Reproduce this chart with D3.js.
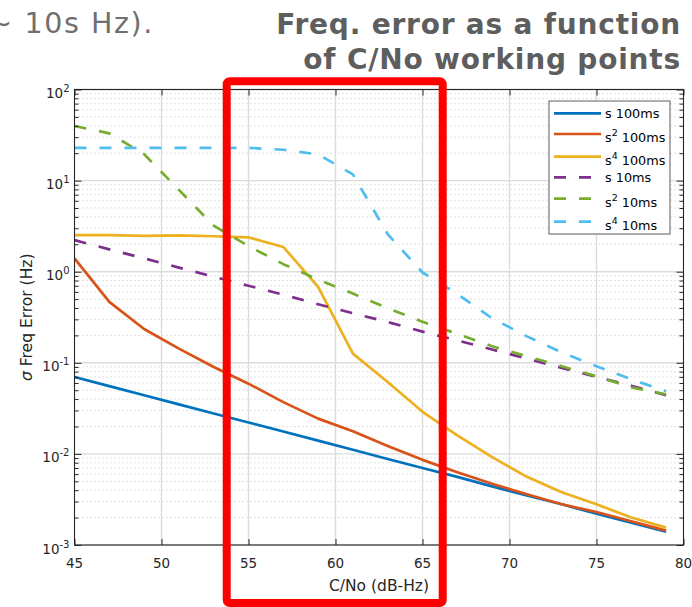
<!DOCTYPE html>
<html><head><meta charset="utf-8">
<script src="https://cdn.jsdelivr.net/npm/d3@7"></script>
<style>
body{margin:0;background:#fff;}
svg{display:block;}
text{font-family:"DejaVu Sans",sans-serif;}
</style>
</head><body>
<svg id="c" width="692" height="607"></svg>
<script>
// ---- data ----
const cno = [45,47,49,51,53,55,57,59,61,63,65,67,69,71,73,75,77,79];
const s_100ms  = [0.0698,0.0555,0.0441,0.0350,0.0278,0.0221,0.0176,0.0140,0.0111,0.0088,0.0070,0.0056,0.0044,0.0035,0.0028,0.0022,0.00176,0.00140];
const s2_100ms = [1.40,0.466,0.235,0.143,0.090,0.059,0.037,0.0244,0.0177,0.0122,0.0086,0.0063,0.0047,0.0036,0.0028,0.0023,0.00182,0.00144];
const s4_100ms = [2.52,2.52,2.47,2.50,2.45,2.38,1.87,0.68,0.126,0.0615,0.029,0.016,0.0092,0.0056,0.0038,0.0028,0.0020,0.00155];
const s_10ms   = [2.22,1.76,1.40,1.11,0.88,0.70,0.56,0.44,0.35,0.28,0.22,0.176,0.140,0.111,0.088,0.070,0.056,0.044];
const s2_10ms  = [39.7,33.0,19.5,7.9,3.2,1.91,1.21,0.82,0.575,0.397,0.282,0.208,0.152,0.118,0.0916,0.0711,0.0538,0.045];
const s4_10ms  = [22.9,22.9,22.9,22.9,22.9,22.9,21.8,19.4,11.7,2.58,0.98,0.57,0.308,0.195,0.130,0.0916,0.066,0.0486];

const seriesBase   = ["s","s","s","s","s","s"];
const seriesSup    = ["","2","4","","2","4"];
const seriesSuffix = ["100ms","100ms","100ms","10ms","10ms","10ms"];
const seriesValues = [s_100ms,s2_100ms,s4_100ms,s_10ms,s2_10ms,s4_10ms];

const xTickValues = [45,50,55,60,65,70,75,80];
const xGridValues = [50,55,60,65,70,75];
const yTickExponents = [-3,-2,-1,0,1,2];

const xLabel = "C/No (dB-Hz)";
const yLabelSymbol = "σ";
const yLabelRest = " Freq Error (Hz)";
const slideTextLeft = "∼ 10s Hz).";
const titleLines = ["Freq. error as a function","of C/No working points"];

// ---- styles ----
const colors = ["#0072BD","#D95319","#EDB120","#7E2F8E","#77AC30","#4DBEEE"];
const isDashed = [false,false,false,true,true,true];

// ---- layout ----
const L = 74.5, R = 683.5, T = 89.5, B = 545;
const svg = d3.select("#c");
const x = d3.scaleLinear().domain([45,80]).range([L,R]);
const y = d3.scaleLog().domain([1e-3,1e2]).range([B,T]);

const yMajor = yTickExponents.map(e => Math.pow(10,e));
const yMinor = [];
for (let e=-3;e<2;e++) for (let m=2;m<=9;m++) yMinor.push(m*Math.pow(10,e));

// slide text
svg.append("text").attr("x",154).attr("y",33).attr("text-anchor","end")
  .attr("font-size",28.5).attr("letter-spacing",1.6).attr("fill","#6f6f6f").text(slideTextLeft);
titleLines.forEach((t,i)=>{
  svg.append("text").attr("x",681).attr("y",34+35*i).attr("text-anchor","end")
    .attr("font-size",28).attr("font-weight","bold").attr("letter-spacing",0.8).attr("fill","#5e5e5e").text(t);
});

// grid
const grid = svg.append("g");
grid.selectAll("line.minor").data(yMinor).join("line")
  .attr("x1",L).attr("x2",R).attr("y1",d=>y(d)).attr("y2",d=>y(d))
  .attr("stroke","#c4c4c4").attr("stroke-width",1).attr("stroke-dasharray","1,3");
grid.selectAll("line.ymaj").data(yMajor).join("line")
  .attr("x1",L).attr("x2",R).attr("y1",d=>y(d)).attr("y2",d=>y(d))
  .attr("stroke","#dcdcdc").attr("stroke-width",1.4);
grid.selectAll("line.xmaj").data(xGridValues).join("line")
  .attr("x1",d=>x(d)).attr("x2",d=>x(d)).attr("y1",T).attr("y2",B)
  .attr("stroke","#dcdcdc").attr("stroke-width",1.4);

// series
svg.append("clipPath").attr("id","pc").append("rect")
  .attr("x",L).attr("y",T).attr("width",R-L).attr("height",B-T);
const line = d3.line().x(d=>x(d[0])).y(d=>y(d[1]));
const lines = svg.append("g").attr("clip-path","url(#pc)");
seriesValues.forEach((vals,i)=>{
  lines.append("path").datum(cno.map((c,j)=>[c,vals[j]]))
    .attr("d",line).attr("fill","none").attr("stroke",colors[i]).attr("stroke-width",2.7)
    .attr("stroke-linejoin","round")
    .attr("stroke-dasharray",isDashed[i]?"12,13":null);
});

// axes (ticks inward on all four sides)
const axCol = "#262626";
function styleAxis(g){ g.selectAll("path.domain").remove(); g.selectAll("line").attr("stroke",axCol); g.selectAll("text").remove(); }
svg.append("g").attr("transform",`translate(${L},0)`).call(d3.axisLeft(y).tickValues(yMajor).tickSize(-7).tickSizeOuter(0)).call(styleAxis);
svg.append("g").attr("transform",`translate(${L},0)`).call(d3.axisLeft(y).tickValues(yMinor).tickSize(-4).tickSizeOuter(0)).call(styleAxis);
svg.append("g").attr("transform",`translate(${R},0)`).call(d3.axisRight(y).tickValues(yMajor).tickSize(-7).tickSizeOuter(0)).call(styleAxis);
svg.append("g").attr("transform",`translate(${R},0)`).call(d3.axisRight(y).tickValues(yMinor).tickSize(-4).tickSizeOuter(0)).call(styleAxis);
svg.append("g").attr("transform",`translate(0,${B})`).call(d3.axisBottom(x).tickValues(xTickValues).tickSize(-6).tickSizeOuter(0)).call(styleAxis);
svg.append("g").attr("transform",`translate(0,${T})`).call(d3.axisTop(x).tickValues(xTickValues).tickSize(-6).tickSizeOuter(0)).call(styleAxis);
svg.append("rect").attr("x",L).attr("y",T).attr("width",R-L).attr("height",B-T)
  .attr("fill","none").attr("stroke",axCol).attr("stroke-width",1.1);

// tick labels
svg.append("g").selectAll("text").data(xTickValues).join("text")
  .attr("x",d=>x(d)).attr("y",B+23).attr("text-anchor","middle")
  .attr("font-size",13.5).attr("fill",axCol).text(d=>d);
const yl = svg.append("g").selectAll("text").data(yTickExponents).join("text")
  .attr("x",L-5).attr("y",d=>y(Math.pow(10,d))+8.5).attr("text-anchor","end")
  .attr("font-size",13.5).attr("fill",axCol);
yl.append("tspan").text("10");
yl.append("tspan").attr("dy",-6).attr("font-size",10).text(d=>String(d));

// axis labels
svg.append("text").attr("x",(L+R)/2).attr("y",591).attr("text-anchor","middle")
  .attr("font-size",15.5).attr("fill",axCol).text(xLabel);
const ylab = svg.append("text").attr("transform",`translate(31.5,${(T+B)/2}) rotate(-90)`)
  .attr("text-anchor","middle").attr("font-size",15.5).attr("fill",axCol);
ylab.append("tspan").attr("font-style","italic").text(yLabelSymbol);
ylab.append("tspan").text(yLabelRest);

// legend
const lg = svg.append("g");
lg.append("rect").attr("x",549).attr("y",101).attr("width",121).attr("height",133)
  .attr("fill","#fff").attr("stroke","#5a5a5a").attr("stroke-width",1);
const rowY = [113.3,134,156.7,177.3,198.7,221.7];
seriesValues.forEach((v,i)=>{
  const ly = rowY[i];
  lg.append("line").attr("x1",554).attr("x2",601).attr("y1",ly).attr("y2",ly)
    .attr("stroke",colors[i]).attr("stroke-width",2.7)
    .attr("stroke-dasharray",isDashed[i]?"12,13":null);
  const t = lg.append("text").attr("x",605).attr("y",ly+(seriesSup[i]?8.4:5))
    .attr("font-size",12.8).attr("fill","#000");
  t.append("tspan").text(seriesBase[i]);
  if (seriesSup[i]) {
    t.append("tspan").attr("dy",-6.5).attr("font-size",9.5).text(seriesSup[i]);
    t.append("tspan").attr("dy",6.5).text(" "+seriesSuffix[i]);
  } else {
    t.append("tspan").text(" "+seriesSuffix[i]);
  }
});

// red highlight rectangle
svg.append("rect").attr("x",226.7).attr("y",81.3).attr("width",216).attr("height",521.7)
  .attr("rx",3).attr("fill","none").attr("stroke","#ff0000").attr("stroke-width",8);
</script>
</body></html>
